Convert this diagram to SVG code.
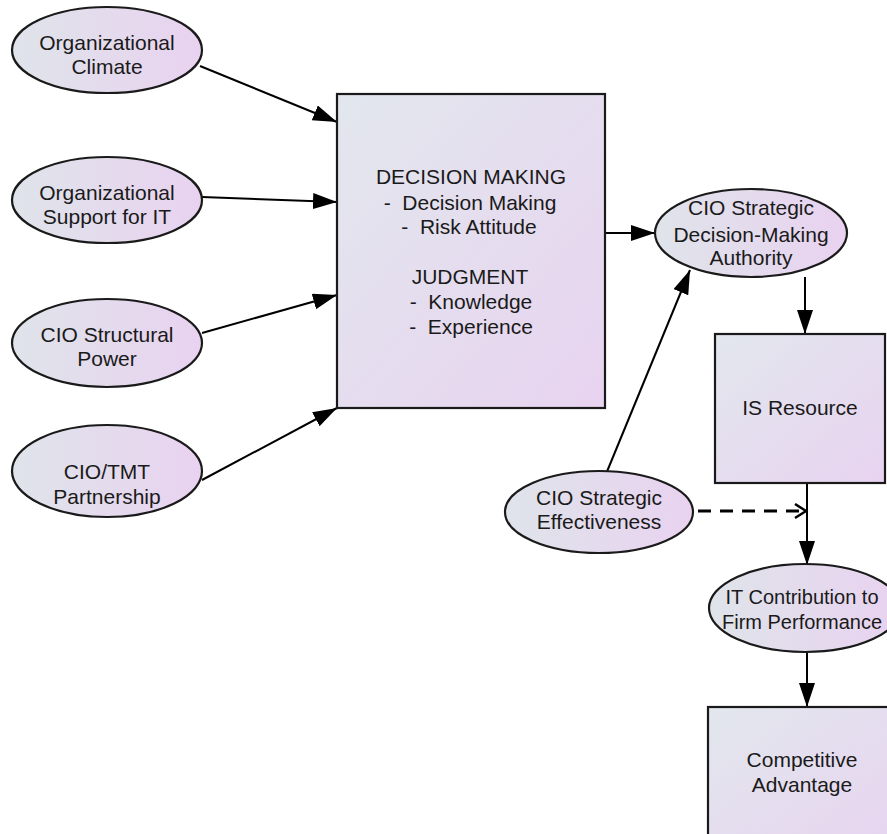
<svg xmlns="http://www.w3.org/2000/svg" width="887" height="834" viewBox="0 0 887 834">
<style>
.shape{stroke:#1a1a1a;stroke-width:2.2}
.ell{fill:url(#gE)}
.box{fill:url(#gB)}
text{font-family:"Liberation Sans",Arial,sans-serif;font-size:21px;fill:#1a1a1a;text-anchor:middle;white-space:pre}
.edge{stroke:#000;stroke-width:2;fill:none}
.dash{stroke:#000;stroke-width:3;fill:none;stroke-dasharray:13 9}
</style>
<defs>
<linearGradient id="gE" x1="0" y1="0" x2="1" y2="0">
<stop offset="0" stop-color="#dfe4ea"/>
<stop offset="1" stop-color="#e9d2f0"/>
</linearGradient>
<linearGradient id="gB" x1="0" y1="0" x2="1" y2="1">
<stop offset="0" stop-color="#e2e7ed"/>
<stop offset="1" stop-color="#e8d3f0"/>
</linearGradient>
<marker id="arr" markerUnits="userSpaceOnUse" markerWidth="26" markerHeight="18" refX="24" refY="8" orient="auto">
<path d="M0,0 L24,8 L0,16 Z" fill="#000"/>
</marker>
<marker id="open" markerUnits="userSpaceOnUse" markerWidth="16" markerHeight="18" refX="13" refY="8" orient="auto">
<path d="M2,1 L13,8 L2,15" fill="none" stroke="#000" stroke-width="2.5"/>
</marker>
</defs>

<g id="connectors">
<line class="edge" x1="200" y1="66" x2="337" y2="122" marker-end="url(#arr)"/>
<line class="edge" x1="202" y1="197" x2="337" y2="202" marker-end="url(#arr)"/>
<line class="edge" x1="202" y1="333" x2="337" y2="295" marker-end="url(#arr)"/>
<line class="edge" x1="202" y1="480" x2="337" y2="408" marker-end="url(#arr)"/>
<line class="edge" x1="605" y1="233" x2="655" y2="233" marker-end="url(#arr)"/>
<line class="edge" x1="606" y1="474" x2="690" y2="270" marker-end="url(#arr)"/>
<line class="edge" x1="805" y1="277" x2="805" y2="334" marker-end="url(#arr)"/>
<line class="edge" x1="807" y1="483" x2="807" y2="565" marker-end="url(#arr)"/>
<line class="dash" x1="698" y1="511" x2="806" y2="511" marker-end="url(#open)"/>
<line class="edge" x1="807" y1="652" x2="807" y2="707" marker-end="url(#arr)"/>
</g>

<g id="org-climate">
<ellipse class="shape ell" cx="107" cy="50" rx="95" ry="43"/>
<text x="107" y="50">Organizational</text>
<text x="107" y="74">Climate</text>
</g>
<g id="org-support">
<ellipse class="shape ell" cx="107" cy="200" rx="95" ry="43"/>
<text x="107" y="200">Organizational</text>
<text x="107" y="224">Support for IT</text>
</g>
<g id="cio-structural">
<ellipse class="shape ell" cx="107" cy="343" rx="95" ry="44"/>
<text x="107" y="342">CIO Structural</text>
<text x="107" y="366">Power</text>
</g>
<g id="cio-tmt">
<ellipse class="shape ell" cx="107" cy="471" rx="95" ry="46"/>
<text x="107" y="479">CIO/TMT</text>
<text x="107" y="504">Partnership</text>
</g>
<g id="decision">
<rect class="shape box" x="337" y="94" width="268" height="314"/>
<text x="471" y="184">DECISION MAKING</text>
<text x="470" y="210" xml:space="preserve">-  Decision Making</text>
<text x="469" y="234" xml:space="preserve">-  Risk Attitude</text>
<text x="470" y="284">JUDGMENT</text>
<text x="471" y="309" xml:space="preserve">-  Knowledge</text>
<text x="471" y="334" xml:space="preserve">-  Experience</text>
</g>
<g id="cio-authority">
<ellipse class="shape ell" cx="751" cy="233" rx="96" ry="44"/>
<text x="751" y="215">CIO Strategic</text>
<text x="751" y="242">Decision-Making</text>
<text x="751" y="265">Authority</text>
</g>
<g id="is-resource">
<rect class="shape box" x="715" y="334" width="170" height="149"/>
<text x="800" y="415">IS Resource</text>
</g>
<g id="cio-effectiveness">
<ellipse class="shape ell" cx="599" cy="512" rx="94" ry="41"/>
<text x="599" y="505">CIO Strategic</text>
<text x="599" y="529">Effectiveness</text>
</g>
<g id="it-contribution">
<ellipse class="shape ell" cx="805" cy="608" rx="96" ry="44"/>
<text x="802" y="604" style="font-size:20px">IT Contribution to</text>
<text x="802" y="629" style="font-size:20px">Firm Performance</text>
</g>
<g id="competitive">
<rect class="shape box" x="708" y="707" width="194" height="150"/>
<text x="802" y="767">Competitive</text>
<text x="802" y="792">Advantage</text>
</g>
</svg>
